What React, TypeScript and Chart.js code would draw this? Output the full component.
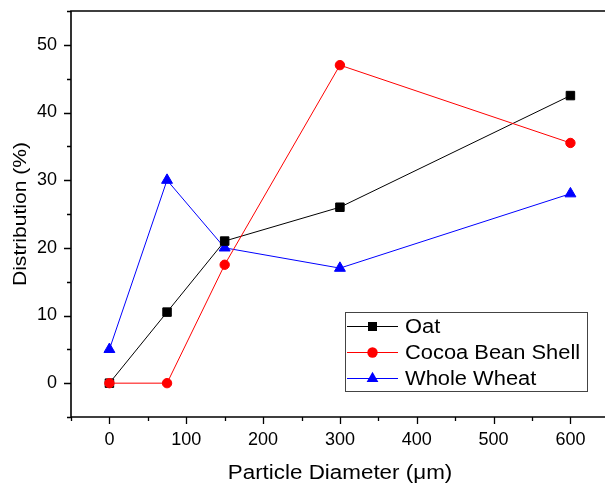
import React, { useEffect, useRef } from "react";
import { Chart, registerables } from "chart.js";
Chart.register(...registerables);

const diameters = [0, 75, 150, 300, 600];
const oat = [0, 10.5, 21, 26, 42.5];
const cocoa = [0, 0, 17.5, 47, 35.5];
const wheat = [5, 30, 20, 17, 28];
const xTicks = [0, 100, 200, 300, 400, 500, 600];
const yTicks = [0, 10, 20, 30, 40, 50];
const seriesNames = ["Oat", "Cocoa Bean Shell", "Whole Wheat"];
const seriesColors = ["#000000", "#ff0000", "#0000ff"];
const seriesShapes = ["rect", "circle", "triangle"];
const xTitle = "Particle Diameter (\u03bcm)";
const yTitle = "Distribution (%)";

const FONT = "'Liberation Sans', Arial, sans-serif";

function drawMarker(ctx: CanvasRenderingContext2D, shape: string, x: number, y: number, color: string) {
  ctx.fillStyle = color;
  ctx.beginPath();
  if (shape === "rect") {
    ctx.rect(x - 4.5, y - 4.5, 9, 9);
  } else if (shape === "circle") {
    ctx.arc(x, y, 5.2, 0, Math.PI * 2);
  } else {
    const r = 6.8;
    ctx.moveTo(x, y - r);
    ctx.lineTo(x + r * 0.866, y + r * 0.5);
    ctx.lineTo(x - r * 0.866, y + r * 0.5);
    ctx.closePath();
  }
  ctx.fill();
}

function stretchedText(ctx: CanvasRenderingContext2D, text: string, x: number, y: number, sx: number, angle = 0) {
  ctx.save();
  ctx.translate(x, y);
  if (angle) ctx.rotate(angle);
  ctx.scale(sx, 1);
  ctx.fillText(text, 0, 0);
  ctx.restore();
}

const decor = {
  id: "decor",
  afterDraw(chart: any) {
    const { ctx, chartArea, scales } = chart;
    const xs = scales.x;
    const ys = scales.y;
    ctx.save();
    ctx.strokeStyle = "#000";
    ctx.lineWidth = 1.6;
    ctx.beginPath();
    ctx.moveTo(chartArea.right + 2, chartArea.top);
    ctx.lineTo(chartArea.left, chartArea.top);
    ctx.lineTo(chartArea.left, chartArea.bottom);
    ctx.lineTo(chartArea.right + 2, chartArea.bottom);
    ctx.stroke();

    ctx.lineWidth = 1.3;
    ctx.beginPath();
    for (let v = -50; v <= 645; v += 50) {
      const px = Math.round(xs.getPixelForValue(v)) + 0.5;
      const len = v % 100 === 0 ? 7 : 4;
      ctx.moveTo(px, chartArea.bottom);
      ctx.lineTo(px, chartArea.bottom + len);
    }
    for (let v = -5; v <= 55; v += 5) {
      const py = Math.round(ys.getPixelForValue(v)) + 0.5;
      const len = v % 10 === 0 ? 7 : 4;
      ctx.moveTo(chartArea.left, py);
      ctx.lineTo(chartArea.left - len, py);
    }
    ctx.stroke();

    // axis titles
    ctx.fillStyle = "#000";
    ctx.textAlign = "center";
    ctx.textBaseline = "alphabetic";
    ctx.font = `20px ${FONT}`;
    stretchedText(ctx, xTitle, 340, 479, 1.12);
    ctx.font = `19px ${FONT}`;
    stretchedText(ctx, yTitle, 26, 214, 1.11, -Math.PI / 2);

    // legend
    const bx = 345, by = 312, bw = 242, bh = 79;
    ctx.fillStyle = "#fff";
    ctx.fillRect(bx, by, bw, bh);
    ctx.strokeStyle = "#444";
    ctx.lineWidth = 1;
    ctx.strokeRect(bx + 0.5, by + 0.5, bw, bh);
    ctx.font = `20px ${FONT}`;
    ctx.textAlign = "left";
    for (let i = 0; i < seriesNames.length; i++) {
      const base = 333 + i * 26;
      const cy = base - 7;
      ctx.strokeStyle = seriesColors[i];
      ctx.lineWidth = 1;
      ctx.beginPath();
      ctx.moveTo(347, cy + 0.5);
      ctx.lineTo(398, cy + 0.5);
      ctx.stroke();
      drawMarker(ctx, seriesShapes[i], 372.5, cy + 0.5, seriesColors[i]);
      ctx.fillStyle = "#000";
      stretchedText(ctx, seriesNames[i], 405, base, 1.094);
    }
    ctx.restore();
  },
};

export default function App() {
  const ref = useRef<HTMLCanvasElement>(null);
  useEffect(() => {
    const canvas = ref.current;
    if (!canvas) return;
    const allSeries = [oat, cocoa, wheat];
    const radii = [6, 4.7, 6.3];
    const orders = [1, 0, 2];
    const chart = new Chart(canvas, {
      type: "line",
      data: {
        datasets: allSeries.map((vals, i) => ({
          label: seriesNames[i],
          data: diameters.map((d, j) => ({ x: d, y: vals[j] })),
          borderColor: seriesColors[i],
          backgroundColor: seriesColors[i],
          pointBackgroundColor: seriesColors[i],
          pointBorderColor: seriesColors[i],
          borderWidth: 1,
          pointBorderWidth: 1,
          pointStyle: seriesShapes[i] as any,
          pointRadius: radii[i],
          tension: 0,
          fill: false,
          order: orders[i],
        })),
      },
      options: {
        animation: false,
        responsive: false,
        devicePixelRatio: 1,
        layout: { autoPadding: false, padding: { top: 11, left: 0, right: 0, bottom: 0 } },
        plugins: { legend: { display: false }, tooltip: { enabled: false } },
        scales: {
          x: {
            type: "linear",
            min: -50,
            max: 645,
            afterBuildTicks: (s: any) => {
              s.ticks = xTicks.map((v) => ({ value: v }));
            },
            afterFit: (s: any) => {
              s.height = 67;
              s.paddingLeft = 0;
              s.paddingRight = 0;
            },
            ticks: {
              font: { family: FONT, size: 18 },
              color: "#000",
              padding: 12,
              maxRotation: 0,
              autoSkip: false,
            },
            grid: { display: false, drawTicks: false },
            border: { display: false },
          },
          y: {
            type: "linear",
            min: -5,
            max: 55,
            afterBuildTicks: (s: any) => {
              s.ticks = yTicks.map((v) => ({ value: v }));
            },
            afterFit: (s: any) => {
              s.width = 71;
              s.paddingTop = 0;
              s.paddingBottom = 0;
            },
            ticks: {
              font: { family: FONT, size: 18 },
              color: "#000",
              padding: 14,
            },
            grid: { display: false, drawTicks: false },
            border: { display: false },
          },
        },
      },
      plugins: [decor],
    });
    return () => chart.destroy();
  }, []);
  return (
    <div style={{ position: "absolute", left: 0, top: 0, width: 605, height: 484 }}>
      <canvas ref={ref} width={605} height={484} style={{ display: "block" }} />
    </div>
  );
}
